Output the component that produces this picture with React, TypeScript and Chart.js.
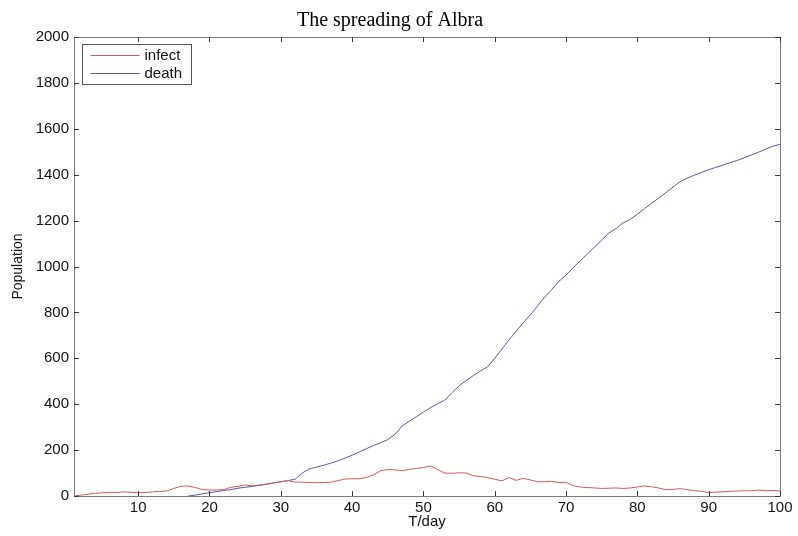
import React, { useEffect, useRef } from "react";
import { Chart, registerables } from "chart.js";

Chart.register(...registerables);

const chartTitle = "The spreading of Albra";
const xTitle = "T/day";
const yTitle = "Population";
const seriesLabels = ["infect", "death"];
const seriesColors = ["#cf5a5a", "#5656b0"];

const days = Array.from({ length: 100 }, (_, i) => i + 1);

const infect = [
  0, 4, 8, 12, 14, 16, 15, 18, 16, 14,
  15, 18, 20, 22, 33, 42, 44, 37, 28, 26,
  26, 28, 38, 42, 48, 44, 48, 52, 57, 62,
  67, 61, 60, 59, 58, 59, 60, 67, 74, 75,
  75, 81, 92, 110, 116, 114, 110, 116, 120, 124,
  131, 115, 100, 99, 101, 100, 88, 85, 80, 73,
  66, 80, 68, 77, 70, 62, 62, 64, 58, 60,
  45, 39, 37, 35, 33, 34, 35, 33, 35, 39,
  44, 40, 35, 27, 29, 32, 28, 23, 21, 15,
  17, 18, 20, 22, 23, 22, 26, 23, 24, 22,
];

const death = [
  null, null, null, null, null, null, null, null, null, null,
  null, null, null, null, null, null, 0, 4, 9, 15,
  19, 24, 28, 34, 38, 42, 46, 51, 57, 62,
  67, 73, 100, 118, 126, 134, 143, 153, 165, 178,
  192, 206, 220, 232, 246, 268, 305, 325, 345, 366,
  385, 402, 418, 450, 480, 503, 525, 545, 563, 600,
  640, 680, 718, 755, 790, 828, 867, 900, 935, 963,
  995, 1025, 1055, 1085, 1115, 1146, 1165, 1190, 1205, 1228,
  1252, 1276, 1298, 1322, 1346, 1370, 1385, 1398, 1410, 1422,
  1432, 1442, 1452, 1462, 1474, 1486, 1498, 1512, 1524, 1532,
];

const xTicks = [10, 20, 30, 40, 50, 60, 70, 80, 90, 100];
const yTicks = [0, 200, 400, 600, 800, 1000, 1200, 1400, 1600, 1800, 2000];
const xMin = 1;
const xMax = 100;
const yMin = 0;
const yMax = 2000;

const sansFont = "Arial, 'Liberation Sans', sans-serif";
const serifFont = "'Times New Roman', 'Liberation Serif', serif";

const matlabPlugin = {
  id: "matlabFrame",
  afterDatasetsDraw(chart: any) {
    const { ctx, chartArea } = chart;
    const { left, right, top, bottom } = chartArea;
    const xs = chart.scales.x;
    const ys = chart.scales.y;
    ctx.save();
    ctx.strokeStyle = "#7a7a7a";
    ctx.lineWidth = 1;
    ctx.beginPath();
    ctx.rect(Math.round(left) + 0.5, Math.round(top) + 0.5, Math.round(right - left), Math.round(bottom - top));
    ctx.stroke();
    const tl = 5;
    ctx.strokeStyle = "#3a3a3a";
    ctx.beginPath();
    xs.ticks.forEach((t: any) => {
      const px = Math.round(xs.getPixelForValue(t.value)) + 0.5;
      ctx.moveTo(px, bottom);
      ctx.lineTo(px, bottom - tl);
      ctx.moveTo(px, top);
      ctx.lineTo(px, top + tl);
    });
    ys.ticks.forEach((t: any) => {
      const py = Math.round(ys.getPixelForValue(t.value)) + 0.5;
      ctx.moveTo(left, py);
      ctx.lineTo(left + tl, py);
      ctx.moveTo(right, py);
      ctx.lineTo(right - tl, py);
    });
    ctx.stroke();

    const bx = Math.round(left) + 8.5;
    const by = Math.round(top) + 7.5;
    const bw = 109;
    const bh = 40;
    ctx.fillStyle = "#ffffff";
    ctx.fillRect(bx, by, bw, bh);
    ctx.strokeStyle = "#555555";
    ctx.strokeRect(bx, by, bw, bh);
    ctx.font = `15px ${sansFont}`;
    ctx.textBaseline = "middle";
    ctx.textAlign = "left";
    chart.data.datasets.forEach((ds: any, i: number) => {
      const ry = by + 11 + i * 18;
      ctx.strokeStyle = ds.borderColor;
      ctx.lineWidth = 1;
      ctx.beginPath();
      ctx.moveTo(bx + 8, ry);
      ctx.lineTo(bx + 57, ry);
      ctx.stroke();
      ctx.fillStyle = "#111111";
      ctx.fillText(ds.label, bx + 62, ry);
    });
    ctx.restore();
  },
};

export default function App() {
  const canvasRef = useRef<HTMLCanvasElement | null>(null);

  useEffect(() => {
    document.body.style.margin = "0";
    const canvas = canvasRef.current;
    if (!canvas) return;
    const chart = new Chart(canvas, {
      type: "line",
      data: {
        datasets: [
          {
            label: seriesLabels[0],
            data: days.map((d, i) => ({ x: d, y: infect[i] })),
            borderColor: seriesColors[0],
            backgroundColor: seriesColors[0],
            borderWidth: 1,
            pointRadius: 0,
            tension: 0,
          },
          {
            label: seriesLabels[1],
            data: days.map((d, i) => ({ x: d, y: death[i] })),
            borderColor: seriesColors[1],
            backgroundColor: seriesColors[1],
            borderWidth: 1,
            pointRadius: 0,
            tension: 0,
            spanGaps: false,
          },
        ],
      },
      options: {
        animation: false,
        responsive: false,
        maintainAspectRatio: false,
        devicePixelRatio: 1,
        layout: { padding: { left: 0, right: 18, top: 0, bottom: 0 } },
        plugins: {
          legend: { display: false },
          tooltip: { enabled: false },
          title: {
            display: true,
            text: chartTitle,
            color: "#000000",
            font: { family: serifFont, size: 20, weight: "normal", lineHeight: 1.2 },
            padding: { top: 9, bottom: 4 },
          },
        },
        scales: {
          x: {
            type: "linear",
            min: xMin,
            max: xMax,
            afterBuildTicks: (scale: any) => {
              scale.ticks = xTicks.map((v) => ({ value: v }));
            },
            afterFit: (scale: any) => {
              scale.height = 40;
            },
            grid: { display: false, drawTicks: false },
            border: { display: false },
            ticks: {
              color: "#111111",
              padding: 3,
              maxRotation: 0,
              autoSkip: false,
              callback: (v: any) => String(v),
              font: { family: sansFont, size: 15, lineHeight: 1.2 },
            },
            title: {
              display: true,
              text: xTitle,
              color: "#111111",
              font: { family: sansFont, size: 15, lineHeight: 1.2 },
              padding: { top: 0, bottom: 5 },
            },
          },
          y: {
            type: "linear",
            min: yMin,
            max: yMax,
            afterBuildTicks: (scale: any) => {
              scale.ticks = yTicks.map((v) => ({ value: v }));
            },
            afterFit: (scale: any) => {
              scale.width = 74;
            },
            grid: { display: false, drawTicks: false },
            border: { display: false },
            ticks: {
              color: "#111111",
              padding: 5,
              autoSkip: false,
              callback: (v: any) => String(v),
              font: { family: sansFont, size: 15, lineHeight: 1.2 },
            },
            title: {
              display: true,
              text: yTitle,
              color: "#111111",
              font: { family: sansFont, size: 14, lineHeight: 1.2 },
              padding: { top: 10, bottom: 0 },
            },
          },
        },
      },
      plugins: [matlabPlugin],
    } as any);
    return () => chart.destroy();
  }, []);

  return (
    <div style={{ position: "absolute", left: 0, top: 0, width: 798, height: 536, background: "#ffffff" }}>
      <canvas ref={canvasRef} width={798} height={536} style={{ width: 798, height: 536 }} />
    </div>
  );
}
